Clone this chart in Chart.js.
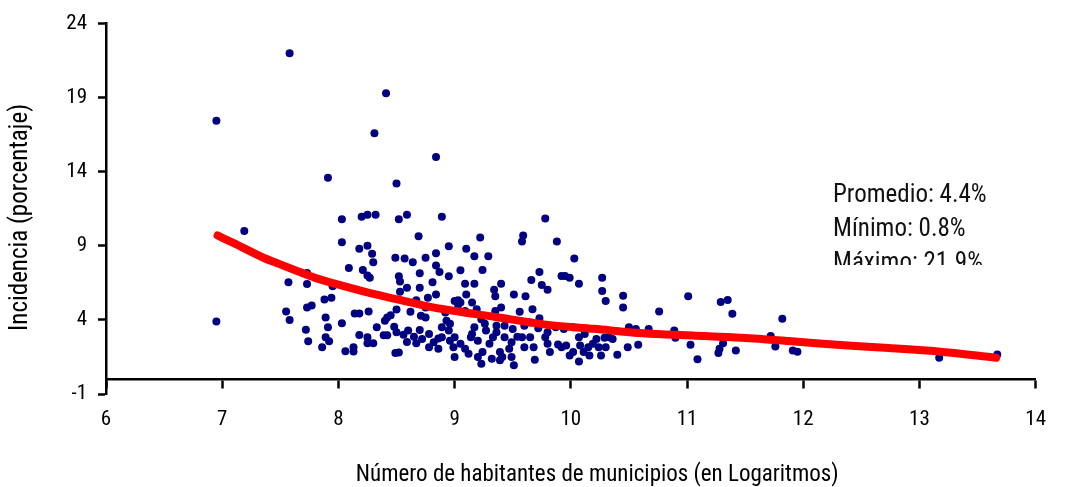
<!DOCTYPE html>
<html><head><meta charset="utf-8">
<script src="https://cdn.jsdelivr.net/npm/chart.js@4.4.1/dist/chart.umd.min.js"></script>
<style>html,body{margin:0;padding:0;background:#fff}#wrap{width:1066px;height:487px;position:relative}</style>
</head><body><div id="wrap"><canvas id="c" width="1066" height="487"></canvas></div>
<script>
// Scatter: municipalities (log of population, incidence %)
const incX = [
 7.58,6.95,8.41,8.31,8.84,7.91,8.50,6.95,7.19,
 8.03,8.20,8.25,8.32,8.52,8.59,8.89,9.78,
 8.69,9.22,9.59,9.58,9.88,8.03,8.18,8.25,8.95,9.10,8.29,8.84,8.49,8.57,8.75,9.17,9.29,10.03,
 8.30,8.64,8.09,8.21,8.84,8.25,8.27,8.87,9.05,9.24,8.95,8.52,8.70,9.73,9.92,9.95,9.99,10.27,
 9.66,8.53,8.81,9.09,9.17,9.40,10.07,9.75,8.59,8.70,9.34,9.80,10.27,8.53,8.84,9.10,9.51,9.35,
 9.61,10.45,11.01,8.77,9.03,8.67,10.30,9.00,9.15,9.05,11.29,11.35,9.03,8.75,10.45,8.50,9.19,
 9.67,9.35,9.09,10.76,8.62,9.56,8.92,11.39,8.45,8.71,8.42,8.75,9.73,11.82,8.40,8.93,
 7.57,7.73,7.73,7.95,7.88,7.94,7.73,7.77,7.55,7.58,7.89,8.14,8.18,8.26,7.72,7.91,8.03,7.74,
 7.89,7.92,7.86,8.06,8.13,8.13,8.18,8.25,8.25,8.30,8.33,8.39,8.42,8.48,8.50,8.49,8.52,8.56,
 8.60,8.59,8.65,8.67,8.70,8.72,
 8.78,8.78,8.86,8.89,8.89,8.95,8.96,9.00,8.99,9.00,9.09,9.15,9.17,9.20,9.23,9.24,9.27,9.30,
 9.33,9.36,9.39,9.41,9.43,9.49,9.49,9.51,9.54,9.58,9.65,9.68,9.69,9.72,9.78,9.80,9.82,9.89,
 9.92,9.99,9.80,9.60,9.32,9.12,9.36,9.50,9.43,
 10.07,10.08,10.07,10.15,10.16,10.02,10.19,10.22,10.24,10.26,10.29,10.30,10.33,10.36,10.11,
 10.50,10.56,10.67,10.89,10.90,10.58,10.49,10.40,11.03,11.09,11.27,11.28,11.31,11.42,11.72,
 11.76,11.91,11.95,13.17,13.67,
 8.96,8.86,9.23,9.26,9.40,9.45,9.60,9.65,9.87,9.94,9.47,9.20,9.39,9.96,10.02,10.12,9.05,9.14,8.82
];
const incY = [
 22.0,17.45,19.3,16.6,15.0,13.6,13.2,3.9,10.0,
 10.8,10.96,11.1,11.1,10.8,11.1,10.96,10.85,
 9.65,9.56,9.7,9.3,9.3,9.25,8.8,9.0,8.98,8.8,8.47,8.5,8.2,8.15,8.2,8.3,8.3,8.15,
 7.9,7.9,7.5,7.37,7.67,7.0,6.84,7.24,7.35,7.37,6.95,6.95,7.15,7.24,6.97,6.97,6.84,6.84,
 6.7,6.6,6.55,6.44,6.44,6.44,6.44,6.35,6.17,6.17,6.04,6.04,5.95,5.9,5.72,5.72,5.72,5.6,
 5.6,5.63,5.6,5.5,5.33,5.33,5.28,5.28,5.17,5.17,5.21,5.35,5.0,4.83,4.83,4.7,4.72,
 4.72,4.6,4.6,4.57,4.55,4.55,4.5,4.41,4.32,4.28,4.17,4.17,4.12,4.08,3.94,3.94,
 6.55,6.42,7.17,6.28,5.37,5.5,4.83,4.97,4.57,4.0,4.17,4.43,4.43,4.57,3.34,3.5,3.77,2.56,
 2.83,2.56,2.16,1.89,2.16,1.87,2.98,2.83,2.43,2.43,3.5,2.96,2.96,3.54,3.16,1.76,1.8,3.0,
 3.28,2.51,2.87,2.43,3.32,2.72,
 3.05,2.16,2.05,3.5,2.83,3.28,2.6,2.83,2.16,1.49,2.05,3.05,3.5,2.6,1.05,1.83,3.28,2.39,
 2.83,3.16,1.83,1.49,2.83,2.49,1.49,0.94,2.87,2.83,2.83,2.16,1.31,3.43,2.83,2.39,1.83,2.34,
 2.16,1.6,3.16,2.16,1.38,1.71,3.61,3.39,3.61,
 2.83,2.27,1.2,2.16,1.6,1.83,2.39,2.72,2.16,1.6,2.79,2.16,2.83,2.72,1.83,
 3.5,3.39,3.39,3.28,2.79,2.32,2.16,1.65,2.32,1.34,1.76,2.05,2.43,1.94,2.92,
 2.21,1.94,1.85,1.45,1.67,
 3.74,2.74,4.05,3.74,4.83,4.07,3.61,3.83,3.5,3.39,2.05,1.49,1.27,2.27,3.5,3.05,2.39,2.83,2.5
];
// Fitted trend (red)
const trendX = [6.96,7.1,7.36,7.5,7.65,7.8,8.04,8.33,8.5,8.75,8.92,9.35,9.77,10.2,10.62,11.05,11.47,11.9,12.32,12.74,13.16,13.66];
const trendY = [9.7,9.18,8.18,7.75,7.29,6.84,6.3,5.7,5.4,4.95,4.7,4.2,3.7,3.4,3.1,2.95,2.8,2.56,2.3,2.1,1.87,1.45];
// Summary text
const statsLines = ['Promedio: 4.4%','Mínimo: 0.8%','Máximo: 21.9%'];
const xTitle = '\u00a0'.repeat(10) + 'Número de habitantes de municipios (en Logaritmos)';
const yTitle = 'Incidencia (porcentaje)\u00a0\u00a0\u00a0';

const COND = '"Roboto Condensed", "Liberation Sans", Arial, sans-serif';

const statsPlugin = {
  id: 'stats',
  afterDraw(chart) {
    const ctx = chart.ctx;
    ctx.save();
    ctx.beginPath();
    ctx.rect(0, 0, chart.width, 265);
    ctx.clip();
    ctx.fillStyle = '#111';
    ctx.font = '25px ' + COND;
    ctx.textBaseline = 'alphabetic';
    ctx.textAlign = 'left';
    statsLines.forEach((t, i) => ctx.fillText(t, 833, 202 + i * 34));
    ctx.restore();
  }
};

new Chart(document.getElementById('c'), {
  type: 'scatter',
  data: {
    datasets: [
      {
        type: 'line', label: 'Tendencia',
        data: trendX.map((x, i) => ({x, y: trendY[i]})),
        borderColor: '#ff0000', backgroundColor: '#ff0000', borderWidth: 8,
        pointRadius: 0, cubicInterpolationMode: 'monotone', tension: 0.4,
        borderCapStyle: 'round', borderJoinStyle: 'round', fill: false
      },
      {
        label: 'Municipios',
        data: incX.map((x, i) => ({x, y: incY[i]})),
        backgroundColor: '#000080', borderColor: '#000080', borderWidth: 0,
        pointRadius: 4, pointHoverRadius: 4
      }
    ]
  },
  options: {
    responsive: false, animation: false, devicePixelRatio: 1,
    layout: {padding: {top: 20, right: 18, bottom: 93, left: 0}},
    plugins: {legend: {display: false}, tooltip: {enabled: false}},
    scales: {
      x: {
        type: 'linear', position: {y: 0}, min: 6, max: 14,
        ticks: {stepSize: 1, color: '#000', font: {family: COND, size: 21}, padding: 20},
        grid: {display: true, drawOnChartArea: false, drawTicks: true, tickLength: 8, tickWidth: 2.5, tickColor: '#000'},
        border: {display: true, color: '#000', width: 2.5},
        title: {display: true, text: xTitle, color: '#000', font: {family: COND, size: 23}, padding: {top: 9, bottom: 0}}
      },
      y: {
        type: 'linear', min: -1, max: 24,
        afterFit: s => { s.width = 106; },
        ticks: {stepSize: 5, color: '#000', font: {family: COND, size: 21}, padding: 11},
        grid: {display: true, drawOnChartArea: false, drawTicks: true, tickLength: 8, tickWidth: 2.5, tickColor: '#000'},
        border: {display: true, color: '#000', width: 2.5},
        title: {display: true, text: yTitle, color: '#000', font: {family: COND, size: 25}, padding: {top: 6, bottom: 0}}
      }
    }
  },
  plugins: [statsPlugin]
});
</script>
</body></html>
